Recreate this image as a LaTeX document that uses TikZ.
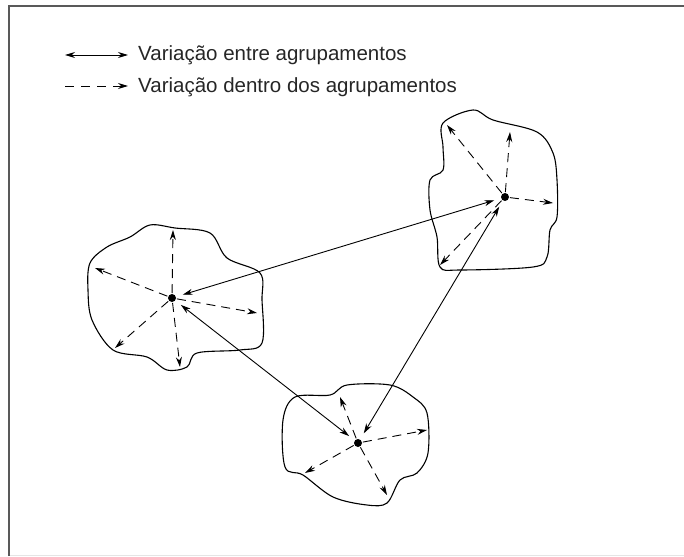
\documentclass[tikz,border=0pt]{standalone}
\usepackage{fontspec}
\setmainfont{Liberation Sans}
\usetikzlibrary{arrows.meta}
\begin{document}
\begin{tikzpicture}[x=1pt,y=-1pt,
  tip/.style={-{Stealth[length=10pt,width=6pt]}},
  between/.style={{Stealth[length=10pt,width=6pt]}-{Stealth[length=10pt,width=6pt]}, line width=0.9pt, shorten <=7pt, shorten >=7pt},
  within/.style={tip, line width=0.9pt, dash pattern=on 9pt off 6pt, shorten <=5pt},
  blob/.style={line width=1.1pt, smooth cycle, tension=0.55},
  center/.style={circle, fill=black, inner sep=0pt, minimum size=8pt},
  legend/.style={anchor=base west, inner sep=0pt, font=\fontsize{20.5}{22}\selectfont, text=black!85}]
\useasboundingbox (0,0) rectangle (684,556);
\draw[line width=2pt, black!65] (9,556) -- (9,6) -- (684,6);
\draw[black!10, line width=1pt] (10,555) -- (684,555);

% legend
\coordinate (l1a) at (65,55);
\coordinate (l1b) at (128,55);
\coordinate (l2a) at (65,86);
\coordinate (l2b) at (128,86);
\draw[{Stealth[length=10pt,width=6pt]}-{Stealth[length=10pt,width=6pt]}, line width=0.9pt] (l1a) -- (l1b);
\draw[tip, line width=0.9pt, dash pattern=on 9pt off 7pt] (l2a) -- (l2b);
\node[legend] (t1) at (138,61) {Variação entre agrupamentos};
\node[legend] (t2) at (138,93) {Variação dentro dos agrupamentos};

% blobs
\draw[blob] plot coordinates {(150,225) (175,228) (210,233) (227,258) (260,273) (262,300) (262,343) (240,350) (197,353) (187,367) (167,370) (147,357) (113,350) (92,320) (88,290) (90,263) (107,247) (130,237)};
\draw[blob] plot coordinates {(443,123) (473,110) (493,120) (537,132) (553,153) (557,180) (557,217) (550,230) (547,257) (533,267) (460,270) (440,267) (437,237) (430,210) (430,180) (443,170) (443,147)};
\draw[blob] plot coordinates {(295,397) (330,395) (347,385) (390,385) (413,397) (427,413) (428,453) (417,473) (400,480) (387,503) (367,505) (333,497) (303,475) (285,467) (283,420)};

% centres
\node[center] (cL) at (172,298) {};
\node[center] (cR) at (505,197) {};
\node[center] (cB) at (358,443) {};

% within-cluster targets
\coordinate (L1) at (173,230);
\coordinate (L2) at (95,268);
\coordinate (L3) at (257,313);
\coordinate (L4) at (180,367);
\coordinate (L5) at (115,348);
\coordinate (R1) at (447,125);
\coordinate (R2) at (510,132);
\coordinate (R3) at (553,203);
\coordinate (R4) at (440,265);
\coordinate (B1) at (340,397);
\coordinate (B2) at (427,430);
\coordinate (B3) at (387,495);
\coordinate (B4) at (305,473);

\foreach \t in {L1,L2,L3,L4,L5} \draw[within] (cL.center) -- (\t);
\foreach \t in {R1,R2,R3,R4} \draw[within] (cR.center) -- (\t);
\foreach \t in {B1,B2,B3,B4} \draw[within] (cB.center) -- (\t);

% between-cluster arrows
\draw[between] (cL) -- (cR);
\draw[between] (cL) -- (cB);
\draw[between] (cR) -- (cB);
\end{tikzpicture}
\end{document}
